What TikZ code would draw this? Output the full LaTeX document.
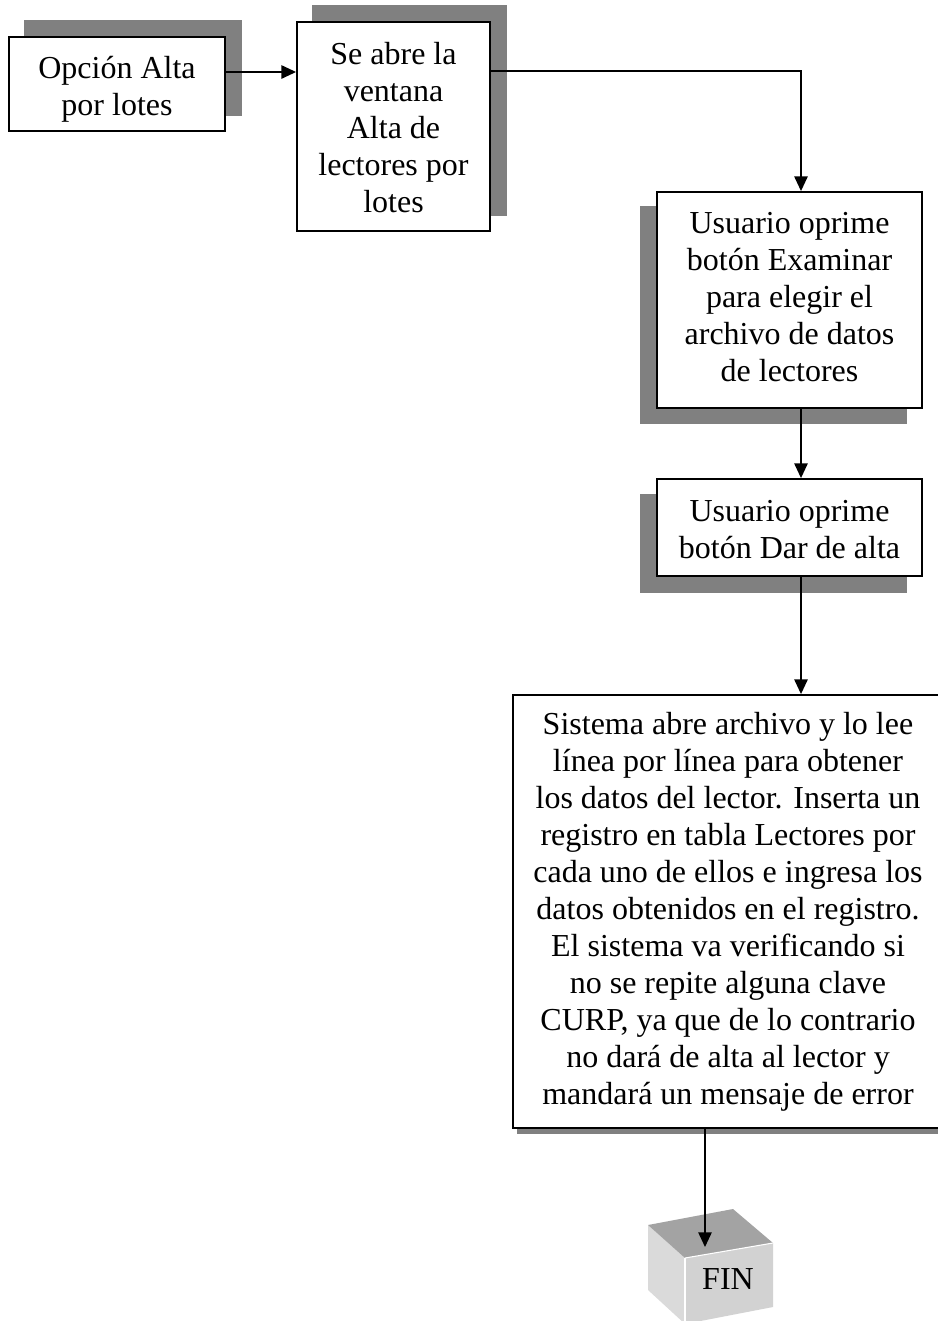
\documentclass[tikz,border=0pt]{standalone}
\usepackage{fontspec}
\setmainfont{Liberation Serif}
\usetikzlibrary{arrows.meta,calc,backgrounds}
\definecolor{shadowgray}{HTML}{808080}
\definecolor{cubetop}{HTML}{A3A3A3}
\definecolor{cubeleft}{HTML}{DADADA}
\definecolor{cubefront}{HTML}{D2D2D2}
\begin{document}
\begin{tikzpicture}[x=0.75pt,y=-0.75pt,
  box/.style={draw=black,line width=1.4pt,fill=white,inner sep=0pt},
  txt/.style={align=center,inner sep=0pt,font=\fontsize{24}{27.75}\selectfont},
  shadowfill/.style={fill=shadowgray,draw=none},
  conn/.style={line width=1.2pt,-{Triangle[length=11pt,width=10pt]}}]
\useasboundingbox (0,0) rectangle (938,1321);

\node[box,minimum width=162pt,minimum height=70.5pt] (b1) at (117,84) {};
\node[box,minimum width=144.75pt,minimum height=156.75pt] (b2) at (393.5,126.5) {};
\node[box,minimum width=198.75pt,minimum height=162pt] (b3) at (789.5,300) {};
\node[box,minimum width=198.75pt,minimum height=72.75pt] (b4) at (789.5,527.5) {};
\node[box,minimum width=322.5pt,minimum height=324.75pt] (b5) at (728,911.5) {};

\node[txt] (t1) at (117,89) {Opción Alta\\por lotes};
\node[txt] (t2) at (393.5,128) {Se abre la\\ventana\\Alta de\\lectores por\\lotes};
\node[txt] (t3) at (789.5,297) {Usuario oprime\\botón Examinar\\para elegir el\\archivo de datos\\de lectores};
\node[txt] (t4) at (789.5,530) {Usuario oprime\\botón Dar de alta};
\node[txt] (t5) at (728,911.5) {Sistema abre archivo y lo lee\\línea por línea para obtener\\los datos del lector. Inserta un\\registro en tabla Lectores por\\cada uno de ellos e ingresa los\\datos obtenidos en el registro.\\El sistema va verificando si\\no se repite alguna clave\\CURP, ya que de lo contrario\\no dará de alta al lector y\\mandará un mensaje de error};

\begin{scope}[on background layer]
  \fill[shadowfill] ($(b1.south west)+(16,-16)$) rectangle ($(b1.north east)+(16,-16)$);
  \fill[shadowfill] ($(b2.south west)+(16,-16)$) rectangle ($(b2.north east)+(16,-16)$);
  \fill[shadowfill] ($(b3.south west)+(-16,15)$) rectangle ($(b3.north east)+(-16,15)$);
  \fill[shadowfill] ($(b4.south west)+(-16,16)$) rectangle ($(b4.north east)+(-16,16)$);
  \fill[shadowfill] ($(b5.south west)+(5,5)$) rectangle ($(b5.north east)+(5,5)$);
\end{scope}

% FIN cube
\fill[cubeleft] (648,1225) -- (685,1258) -- (685,1324) -- (648,1290) -- cycle;
\fill[cubefront] (685,1258) -- (773,1243) -- (773,1307) -- (685,1324) -- cycle;
\fill[cubetop] (648,1225) -- (733,1209) -- (773,1243) -- (685,1258) -- cycle;
\draw[white,line width=0.8pt] (685,1258) -- (685,1324);
\draw[white,line width=0.8pt] (685,1258) -- (773,1243);
\node[txt] (fin) at (728,1279) {FIN};

\coordinate (r1) at (0,72);
\coordinate (r2) at (0,71);
\coordinate (vx) at (801,0);
\coordinate (fx) at (705,0);
\coordinate (fintop) at (705,1247);

\draw[conn] (b1.east |- r1) -- (b2.west |- r1);
\draw[conn] (b2.east |- r2) -| (b3.north -| vx);
\draw[conn] (b3.south -| vx) -- (b4.north -| vx);
\draw[conn] (b4.south -| vx) -- (b5.north -| vx);
\draw[conn] (b5.south -| fx) -- (fintop);
\end{tikzpicture}
\end{document}
